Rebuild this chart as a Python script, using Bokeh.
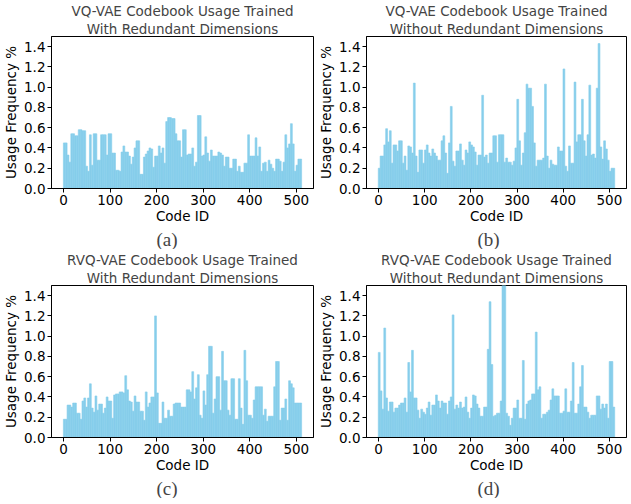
from bokeh.plotting import figure
from bokeh.models import ColumnDataSource, Range1d, FixedTicker, PrintfTickFormatter, Title
from bokeh.layouts import column, row
from bokeh.embed import file_html
from bokeh.resources import INLINE

# code IDs (start of each group of 4 codes)
code_ids = list(range(0, 512, 4))

vq_with = [
    0.45, 0.45, 0.33, 0.26, 0.54, 0.54, 0.52, 0.52, 0.58, 0.58,
    0.57, 0.57, 0.22, 0.17, 0.53, 0.23, 0.54, 0.54, 0.28, 0.28,
    0.53, 0.53, 0.53, 0.33, 0.54, 0.54, 0.35, 0.35, 0.18, 0.18,
    0.17, 0.36, 0.42, 0.36, 0.36, 0.32, 0.24, 0.31, 0.40, 0.47,
    0.47, 0.14, 0.14, 0.31, 0.34, 0.37, 0.40, 0.39, 0.21, 0.32,
    0.32, 0.42, 0.35, 0.40, 0.25, 0.66, 0.70, 0.70, 0.69, 0.69,
    0.54, 0.47, 0.47, 0.31, 0.58, 0.58, 0.33, 0.34, 0.34, 0.40,
    0.22, 0.26, 0.72, 0.72, 0.32, 0.33, 0.51, 0.35, 0.27, 0.38,
    0.32, 0.32, 0.32, 0.36, 0.35, 0.33, 0.22, 0.31, 0.31, 0.20,
    0.20, 0.29, 0.29, 0.17, 0.22, 0.16, 0.16, 0.25, 0.25, 0.53,
    0.32, 0.32, 0.32, 0.50, 0.32, 0.41, 0.17, 0.25, 0.26, 0.17,
    0.28, 0.24, 0.20, 0.17, 0.29, 0.29, 0.27, 0.17, 0.26, 0.53,
    0.40, 0.44, 0.64, 0.44, 0.17, 0.23, 0.29, 0.29,
]

vq_without = [
    0.20, 0.32, 0.32, 0.43, 0.59, 0.46, 0.57, 0.25, 0.43, 0.43,
    0.37, 0.47, 0.47, 0.25, 0.32, 0.18, 0.42, 0.41, 0.35, 1.04,
    0.32, 0.16, 0.38, 0.38, 0.25, 0.38, 0.43, 0.35, 0.32, 0.39,
    0.35, 0.32, 0.28, 0.28, 0.47, 0.52, 0.35, 0.15, 0.45, 0.81,
    0.27, 0.22, 0.37, 0.37, 0.44, 0.28, 0.23, 0.38, 0.35, 0.46,
    0.43, 0.41, 0.36, 0.23, 0.33, 0.33, 0.92, 0.31, 0.33, 0.25,
    0.35, 0.35, 0.52, 0.52, 0.26, 0.53, 0.53, 0.53, 0.26, 0.30,
    0.26, 0.26, 0.23, 0.27, 0.40, 0.88, 0.47, 0.23, 0.35, 0.55,
    1.03, 0.99, 0.99, 0.81, 0.45, 0.22, 0.28, 0.28, 0.28, 0.30,
    1.03, 0.32, 0.20, 0.28, 0.24, 0.23, 0.23, 0.41, 0.37, 0.37,
    1.18, 0.22, 0.17, 0.42, 0.25, 0.25, 1.05, 0.46, 0.53, 0.53,
    0.88, 0.47, 0.32, 0.53, 1.02, 0.33, 0.34, 0.30, 0.99, 1.43,
    0.41, 0.29, 0.47, 0.39, 0.28, 0.17, 0.20, 0.20,
]

rvq_with = [
    0.18, 0.18, 0.32, 0.32, 0.30, 0.34, 0.34, 0.24, 0.24, 0.18,
    0.36, 0.39, 0.30, 0.39, 0.53, 0.29, 0.25, 0.41, 0.27, 0.33,
    0.33, 0.24, 0.29, 0.40, 0.36, 0.36, 0.19, 0.42, 0.43, 0.43,
    0.45, 0.45, 0.44, 0.61, 0.47, 0.36, 0.35, 0.26, 0.41, 0.35,
    0.35, 0.26, 0.26, 0.17, 0.45, 0.30, 0.34, 0.40, 0.40, 1.20,
    0.44, 0.14, 0.14, 0.35, 0.19, 0.19, 0.27, 0.21, 0.21, 0.33,
    0.34, 0.34, 0.34, 0.30, 0.30, 0.30, 0.47, 0.47, 0.45, 0.65,
    0.38, 0.49, 0.62, 0.22, 0.19, 0.46, 0.32, 0.62, 0.90, 0.90,
    0.24, 0.38, 0.60, 0.60, 0.27, 0.85, 0.56, 0.56, 0.27, 0.22,
    0.58, 0.58, 0.18, 0.18, 0.58, 0.29, 0.13, 0.86, 0.56, 0.22,
    0.22, 0.19, 0.37, 0.50, 0.50, 0.50, 0.50, 0.22, 0.28, 0.16,
    0.21, 0.21, 0.21, 0.50, 0.75, 0.75, 0.17, 0.29, 0.29, 0.38,
    0.17, 0.56, 0.53, 0.49, 0.34, 0.34, 0.34, 0.34,
]

rvq_without = [
    0.84, 0.46, 0.28, 1.08, 0.39, 0.26, 0.35, 0.35, 0.25, 0.29,
    0.29, 0.32, 0.34, 0.34, 0.39, 0.25, 0.74, 0.45, 0.86, 0.39,
    0.39, 0.27, 0.19, 0.28, 0.25, 0.23, 0.29, 0.35, 0.22, 0.32,
    0.32, 0.42, 0.36, 0.29, 0.36, 0.34, 0.34, 0.23, 0.36, 0.40,
    1.21, 0.28, 0.32, 0.29, 0.35, 0.29, 0.30, 0.40, 0.25, 0.19,
    0.29, 0.42, 0.41, 0.33, 0.29, 0.21, 0.21, 0.30, 0.30, 0.87,
    1.34, 0.72, 0.21, 0.22, 0.24, 0.24, 0.36, 1.50, 1.50, 0.24,
    0.21, 0.12, 0.19, 0.29, 0.29, 0.37, 0.19, 0.19, 0.76, 0.18,
    0.33, 0.36, 0.37, 0.43, 0.43, 1.04, 0.47, 0.50, 0.19, 0.23,
    0.23, 0.25, 0.27, 0.37, 0.48, 0.41, 0.41, 0.41, 0.24, 0.24,
    0.26, 0.48, 0.25, 0.25, 0.36, 0.74, 0.24, 0.24, 0.33, 0.50,
    0.71, 0.30, 0.30, 0.25, 0.19, 0.22, 0.22, 0.22, 0.41, 0.41,
    0.28, 0.33, 0.29, 0.33, 0.19, 0.75, 0.75, 0.30,
]

x_ticks = [0, 100, 200, 300, 400, 500]
y_ticks = [0.0, 0.2, 0.4, 0.6, 0.8, 1.0, 1.2, 1.4]

FONT = "DejaVu Sans"
BAR_COLOR = "#87CEEB"
FS = "13.5px"


def panel(values, title1, title2, caption, fw, left, right, cap_offset):
    p = figure(frame_width=fw, frame_height=152, output_backend="svg",
               toolbar_location=None,
               x_range=Range1d(-26, 537), y_range=Range1d(0, 1.5),
               min_border_left=left, min_border_right=right, min_border_top=26,
               min_border_bottom=60)
    src = ColumnDataSource(dict(x=[c + 1.5 for c in code_ids], top=values))
    p.vbar(x="x", top="top", width=4, source=src, fill_color=BAR_COLOR,
           line_color=BAR_COLOR, line_width=0.6)
    p.grid.visible = False
    p.outline_line_color = "black"
    p.outline_line_width = 1
    p.outline_line_alpha = 1

    p.xaxis.ticker = FixedTicker(ticks=x_ticks)
    p.yaxis.ticker = FixedTicker(ticks=y_ticks)
    p.yaxis.formatter = PrintfTickFormatter(format="%.1f")
    for ax in (p.xaxis[0], p.yaxis[0]):
        ax.minor_tick_line_color = None
        ax.major_tick_in = 0
        ax.major_tick_out = 4
        ax.major_label_standoff = 2
        ax.major_label_text_font = FONT
        ax.major_label_text_font_size = FS
        ax.major_label_text_color = "black"
        ax.axis_label_text_font = FONT
        ax.axis_label_text_font_size = FS
        ax.axis_label_text_font_style = "normal"
        ax.axis_label_text_color = "black"
        ax.axis_line_color = "black"
        ax.major_tick_line_color = "black"
    p.xaxis.axis_label_standoff = 0
    p.yaxis.axis_label_standoff = 2
    p.xaxis.axis_label = "Code ID"
    p.yaxis.axis_label = "Usage Frequency %"

    p.add_layout(Title(text=title2, align="center", text_font=FONT,
                       text_font_size=FS, text_font_style="normal",
                       text_line_height=1.0, standoff=0), "above")
    p.add_layout(Title(text=title1, align="center", text_font=FONT,
                       text_font_size=FS, text_font_style="normal",
                       text_line_height=1.0, standoff=0), "above")
    p.add_layout(Title(text=caption, align="left", offset=cap_offset,
                       text_font="Liberation Serif", text_font_size="19px",
                       text_font_style="normal", text_line_height=1.0,
                       standoff=0), "below")
    return p


pa = panel(vq_with, "VQ-VAE Codebook Usage Trained", "With Redundant Dimensions",
           "(a)", 262, 40, 2, 105)
pb = panel(vq_without, "VQ-VAE Codebook Usage Trained", "Without Redundant Dimensions",
           "(b)", 260, 48, 3, 111)
pc = panel(rvq_with, "RVQ-VAE Codebook Usage Trained", "With Redundant Dimensions",
           "(c)", 262, 40, 2, 105)
pd = panel(rvq_without, "RVQ-VAE Codebook Usage Trained", "Without Redundant Dimensions",
           "(d)", 260, 48, 3, 111)

layout = column(row(pa, pb), row(pc, pd))

with open("out.html", "w") as f:
    f.write(file_html(layout, INLINE))
